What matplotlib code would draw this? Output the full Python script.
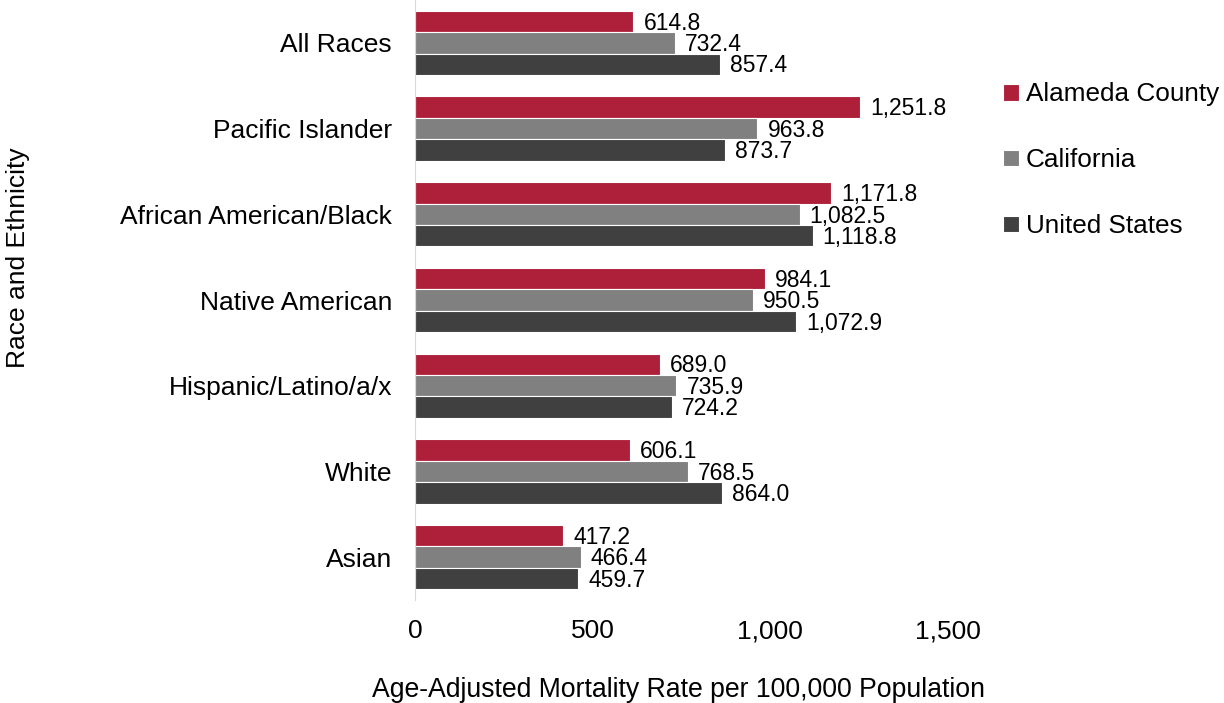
import numpy as np
import matplotlib.pyplot as plt

plt.rcParams['font.family'] = ['Liberation Sans', 'DejaVu Sans']

groups = ['All Races', 'Pacific Islander', 'African American/Black', 'Native American',
          'Hispanic/Latino/a/x', 'White', 'Asian']
alameda = [614.8, 1251.8, 1171.8, 984.1, 689.0, 606.1, 417.2]
california = [732.4, 963.8, 1082.5, 950.5, 735.9, 768.5, 466.4]
united_states = [857.4, 873.7, 1118.8, 1072.9, 724.2, 864.0, 459.7]

series = [('Alameda County', alameda, '#AE1F3A'),
          ('California', california, '#808080'),
          ('United States', united_states, '#404040')]

fig = plt.figure(figsize=(12.24, 7.03), dpi=100)
ax = fig.add_axes([415 / 1224, 103 / 703, 533 / 1224, 600 / 703])

y = np.arange(len(groups))
h = 0.25
for i, (name, vals, col) in enumerate(series):
    pos = y + (i - 1) * h
    ax.barh(pos, vals, height=h, color=col, edgecolor='white', linewidth=0.8, label=name)
    for p, v in zip(pos, vals):
        ax.text(v + 28, p + 0.02, f'{v:,.1f}', va='center', ha='left', fontsize=16.5)

ax.set_ylim(len(groups) - 0.5, -0.5)
ax.set_xlim(0, 1500)
ax.set_xticks([0, 500, 1000, 1500])
ax.set_xticklabels(['0', '500', '1,000', '1,500'])
ax.set_yticks(y)
ax.set_yticklabels(groups)
ax.tick_params(axis='both', length=0, labelsize=19)
ax.tick_params(axis='y', pad=16.5)
ax.tick_params(axis='x', pad=14)
for s in ['top', 'right', 'bottom']:
    ax.spines[s].set_visible(False)
ax.spines['left'].set_color('#d9d9d9')

fig.text(678 / 1224, 1 - 690 / 703, 'Age-Adjusted Mortality Rate per 100,000 Population',
         ha='center', va='center', fontsize=19.2)
fig.text(18 / 1224, 1 - 258 / 703, 'Race and Ethnicity', rotation=90,
         ha='center', va='center', fontsize=19)

fig.legend(loc='upper left', bbox_to_anchor=(993 / 1224, 1 - 72 / 703), frameon=False,
           fontsize=18.8, handlelength=0.6, handleheight=0.6, handletextpad=0.25,
           labelspacing=1.6, borderaxespad=0)

fig.savefig('out.png', dpi=100)
